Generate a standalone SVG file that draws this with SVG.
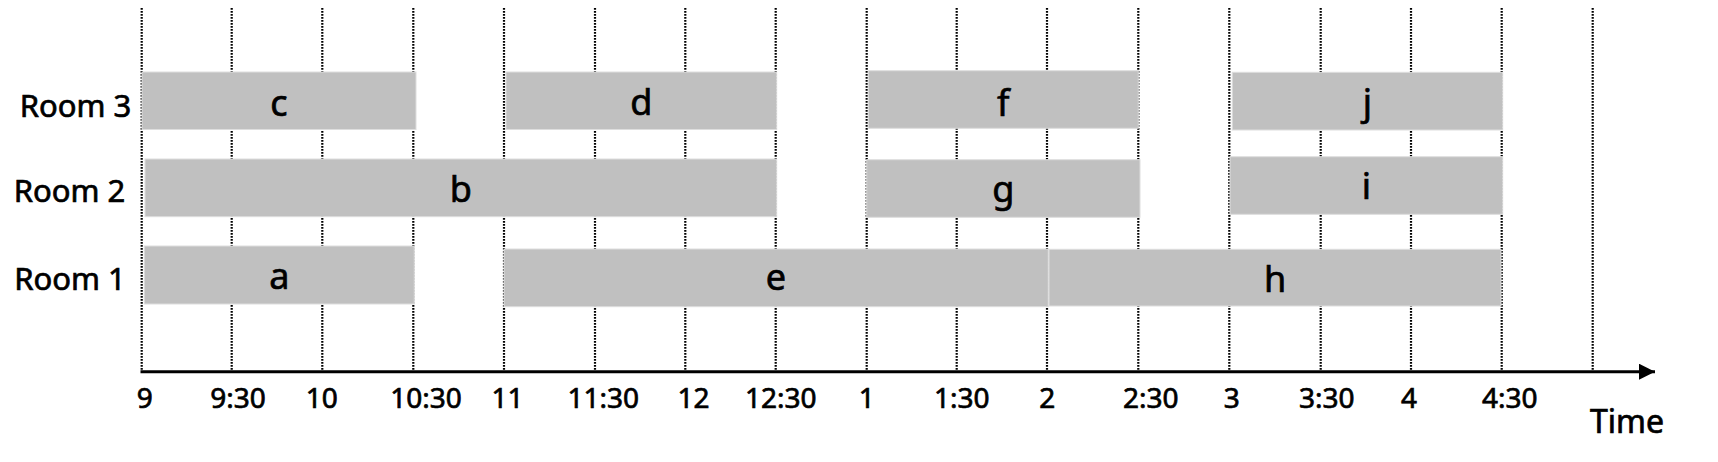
<svg xmlns="http://www.w3.org/2000/svg" width="1718" height="462" viewBox="0 0 1718 462">
<style>
  .grid { stroke: #000; stroke-width: 2.2; stroke-dasharray: 1.8 1.2; fill: none; }
  .axis { stroke: #000; stroke-width: 3; fill: none; }
  .bar { fill: #c0c0c0; stroke: #dedede; stroke-width: 1; }
  .lbl { font-family: "Comic Sans MS", "Noto Sans", "DejaVu Sans", sans-serif; fill: #000; stroke: #000; stroke-width: 0.7; text-anchor: middle; }
  .room { font-size: 31px; }
  .tick { font-size: 28px; }
  .bl { font-size: 36px; }
  .time { font-size: 32px; }
</style>
<defs>
  <marker id="arrow" markerUnits="userSpaceOnUse" markerWidth="18" markerHeight="18" refX="16" refY="8" orient="auto">
    <polygon points="0,0 16,8 0,16" fill="#000"/>
  </marker>
</defs>
<rect width="1718" height="462" fill="#fff"/>
<g id="connectors">
  <g id="gridlines">
    <line class="grid" x1="141.7" y1="8" x2="141.7" y2="371"/>
    <line class="grid" x1="231.7" y1="8" x2="231.7" y2="371"/>
    <line class="grid" x1="322.3" y1="8" x2="322.3" y2="371"/>
    <line class="grid" x1="413.3" y1="8" x2="413.3" y2="371"/>
    <line class="grid" x1="504" y1="8" x2="504" y2="371"/>
    <line class="grid" x1="595" y1="8" x2="595" y2="371"/>
    <line class="grid" x1="685.3" y1="8" x2="685.3" y2="371"/>
    <line class="grid" x1="775.7" y1="8" x2="775.7" y2="371"/>
    <line class="grid" x1="866.7" y1="8" x2="866.7" y2="371"/>
    <line class="grid" x1="956.7" y1="8" x2="956.7" y2="371"/>
    <line class="grid" x1="1047" y1="8" x2="1047" y2="371"/>
    <line class="grid" x1="1138.3" y1="8" x2="1138.3" y2="371"/>
    <line class="grid" x1="1229.3" y1="8" x2="1229.3" y2="371"/>
    <line class="grid" x1="1320.7" y1="8" x2="1320.7" y2="371"/>
    <line class="grid" x1="1411" y1="8" x2="1411" y2="371"/>
    <line class="grid" x1="1501.7" y1="8" x2="1501.7" y2="371"/>
    <line class="grid" x1="1592.7" y1="8" x2="1592.7" y2="371"/>
  </g>
  <line id="time-axis" class="axis" x1="140.5" y1="371.7" x2="1655" y2="371.7" marker-end="url(#arrow)"/>
</g>
<g id="room-labels">
  <text class="lbl room" x="75.5" y="116.7">Room 3</text>
  <text class="lbl room" x="69.5" y="201.7">Room 2</text>
  <text class="lbl room" x="70" y="290">Room 1</text>
</g>
<g id="tick-labels">
  <text class="lbl tick" x="144.7" y="408.3">9</text>
  <text class="lbl tick" x="238" y="408.3">9:30</text>
  <text class="lbl tick" x="321.7" y="408.3">10</text>
  <text class="lbl tick" x="426" y="408.3">10:30</text>
  <text class="lbl tick" x="507.5" y="408.3">11</text>
  <text class="lbl tick" x="603.3" y="408.3">11:30</text>
  <text class="lbl tick" x="693.5" y="408.3">12</text>
  <text class="lbl tick" x="780.8" y="408.3">12:30</text>
  <text class="lbl tick" x="866.7" y="408.3">1</text>
  <text class="lbl tick" x="961.7" y="408.3">1:30</text>
  <text class="lbl tick" x="1047.3" y="408.3">2</text>
  <text class="lbl tick" x="1150.7" y="408.3">2:30</text>
  <text class="lbl tick" x="1231.7" y="408.3">3</text>
  <text class="lbl tick" x="1326.7" y="408.3">3:30</text>
  <text class="lbl tick" x="1409" y="408.3">4</text>
  <text class="lbl tick" x="1509.7" y="408.3">4:30</text>
  <text class="lbl time" x="1627" y="433">Time</text>
</g>
<g id="c"><rect class="bar" x="142" y="72" width="274" height="57.5"/><text class="lbl bl" x="279" y="115.7">c</text></g>
<g id="d"><rect class="bar" x="506" y="72" width="270.7" height="57.5"/><text class="lbl bl" x="641.3" y="115">d</text></g>
<g id="f"><rect class="bar" x="868.3" y="70.7" width="270" height="57.6"/><text class="lbl bl" x="1003.3" y="115.7">f</text></g>
<g id="j"><rect class="bar" x="1232.3" y="72.3" width="270.4" height="57.7"/><text class="lbl bl" x="1367.5" y="115">j</text></g>
<g id="b"><rect class="bar" x="145" y="159" width="631.7" height="57.7"/><text class="lbl bl" x="460.8" y="201.7">b</text></g>
<g id="g"><rect class="bar" x="866.7" y="159.7" width="273.3" height="57.6"/><text class="lbl bl" x="1003.3" y="201.7">g</text></g>
<g id="i"><rect class="bar" x="1230" y="156.7" width="272.7" height="57.6"/><text class="lbl bl" x="1366.4" y="199">i</text></g>
<g id="a"><rect class="bar" x="144.3" y="246" width="270" height="58"/><text class="lbl bl" x="279.3" y="289.3">a</text></g>
<g id="e"><rect class="bar" x="504" y="249" width="544.3" height="57.7"/><text class="lbl bl" x="776" y="290">e</text></g>
<g id="h"><rect class="bar" x="1049" y="249.3" width="452" height="56.7"/><text class="lbl bl" x="1275" y="291.7">h</text></g>
</svg>
